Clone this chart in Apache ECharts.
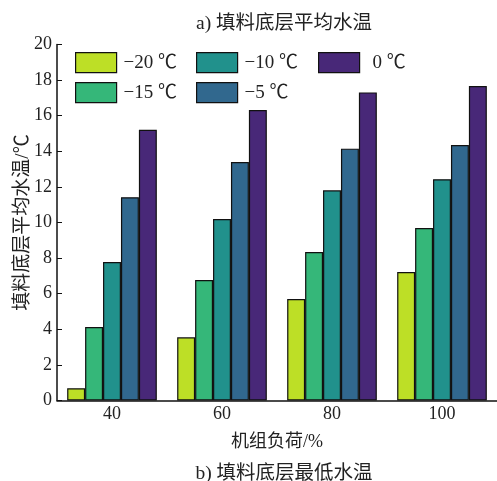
<!DOCTYPE html>
<html><head><meta charset="utf-8">
<script src="https://cdn.jsdelivr.net/npm/echarts@6/dist/echarts.min.js"></script>
<style>html,body{margin:0;padding:0;background:#fff}#c{width:497px;height:481px}</style>
</head><body><div id="c"></div>
<script>
const categories = ['40', '60', '80', '100'];
const seriesNames = ['\u221220 \u2103', '\u221215 \u2103', '\u221210 \u2103', '\u22125 \u2103', '0 \u2103'];
const vM20 = [0.69, 3.55, 5.70, 7.22];
const vM15 = [4.13, 6.77, 8.34, 9.69];
const vM10 = [7.78, 10.20, 11.81, 12.43];
const vM5 = [11.42, 13.40, 14.15, 14.35];
const v0 = [15.21, 16.32, 17.31, 17.67];
const yTicks = [0, 2, 4, 6, 8, 10, 12, 14, 16, 18, 20];
const titleTop = 'a) 填料底层平均水温';
const titleBottom = 'b) 填料底层最低水温';
const xName = '机组负荷/%';
const yName = '填料底层平均水温/\u2103';

const colors = ['#bddf26', '#35b779', '#21918c', '#31688e', '#482878'];
const values = [vM20, vM15, vM10, vM5, v0];
const serif = "'Liberation Serif', 'Times New Roman', 'Noto Sans CJK SC', serif";
const legendPos = [[75, 52], [75, 82], [196, 52], [196, 82], [318, 52]];

const chart = echarts.init(document.getElementById('c'), null, {renderer: 'canvas'});
const legends = seriesNames.map((n, i) => ({
  data: [n], left: legendPos[i][0], top: legendPos[i][1],
  itemWidth: 41, itemHeight: 20, itemGap: 0, padding: 0,
  icon: 'rect',
  itemStyle: {borderColor: '#111', borderWidth: 1.2},
  textStyle: {fontFamily: serif, fontSize: 19, color: '#222', padding: [0, 0, 0, i === 4 ? 8 : 2]}
}));
chart.setOption({
  animation: false,
  title: [
    {text: titleTop, left: 279, top: 9, textAlign: 'center',
     textStyle: {fontFamily: serif, fontSize: 19.5, fontWeight: 'normal', color: '#222'}},
    {text: titleBottom, left: 279, top: 459, textAlign: 'center',
     textStyle: {fontFamily: serif, fontSize: 19.5, fontWeight: 'normal', color: '#222'}}
  ],
  legend: legends,
  grid: {left: 57, right: -3, top: 44.5, bottom: 80.5, containLabel: false},
  xAxis: {
    type: 'category', data: categories,
    name: xName, nameLocation: 'middle', nameGap: 33, nameMoveOverlap: false,
    nameTextStyle: {fontFamily: serif, fontSize: 18, color: '#222'},
    axisLine: {lineStyle: {color: '#111', width: 1.5}},
    axisTick: {inside: true, alignWithLabel: true, length: 5, lineStyle: {color: '#111'}},
    axisLabel: {fontFamily: serif, fontSize: 18, color: '#222', margin: 5}
  },
  yAxis: {
    type: 'value', min: yTicks[0], max: yTicks[yTicks.length - 1], interval: 2,
    name: yName, nameLocation: 'middle', nameGap: 24, nameMoveOverlap: false,
    nameTextStyle: {fontFamily: serif, fontSize: 19, color: '#222'},
    splitLine: {show: false},
    axisLine: {show: true, lineStyle: {color: '#111', width: 1.5}},
    axisTick: {show: true, inside: true, length: 5, lineStyle: {color: '#111'}},
    axisLabel: {fontFamily: serif, fontSize: 18, color: '#222', margin: 5}
  },
  series: seriesNames.map((n, i) => ({
    name: n, type: 'bar', data: values[i],
    barGap: '0%', barCategoryGap: '18.5%',
    itemStyle: {color: colors[i], borderColor: '#111', borderWidth: 1.2}
  }))
});
</script></body></html>
